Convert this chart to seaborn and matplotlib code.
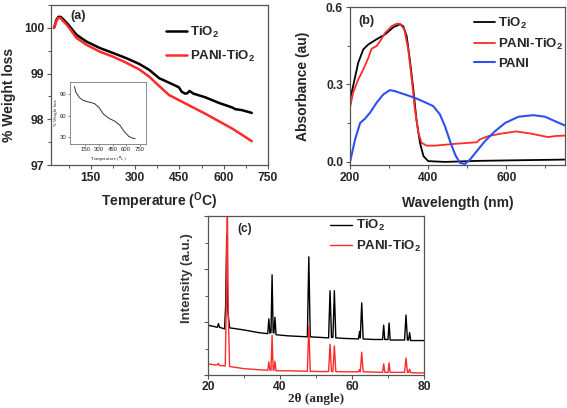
import matplotlib
matplotlib.use('Agg')
import matplotlib.pyplot as plt
import seaborn as sns
import pandas as pd
from matplotlib.ticker import MultipleLocator, NullFormatter

# (a) TGA
tga_temp_tio2 = [25, 28, 33, 40, 48, 56, 68, 80, 101, 135, 180, 225, 269, 314, 348, 381, 415, 448,
                 458, 470, 477, 484, 498, 538, 583, 628, 634, 640, 662, 695]
tga_wt_tio2 = [100.0, 100.05, 100.17, 100.24, 100.24, 100.19, 100.11, 100.02, 99.85, 99.70, 99.56,
               99.45, 99.34, 99.21, 99.08, 98.90, 98.80, 98.70, 98.60, 98.56, 98.57, 98.62, 98.56,
               98.48, 98.36, 98.26, 98.24, 98.22, 98.20, 98.14]
tga_temp_pani = [25, 28, 33, 40, 48, 56, 68, 80, 101, 135, 180, 225, 269, 314, 348, 381, 415, 448,
                 493, 538, 583, 628, 662, 695]
tga_wt_pani = [100.0, 100.05, 100.15, 100.22, 100.21, 100.15, 100.07, 99.97, 99.78, 99.63, 99.48,
               99.37, 99.24, 99.09, 98.93, 98.73, 98.53, 98.42, 98.27, 98.12, 97.96, 97.80, 97.66, 97.52]
inset_temp = [30, 45, 85, 123, 181, 250, 300, 350, 410, 470, 530, 580, 630, 670, 700]
inset_wt = [99.9, 92, 84.6, 81, 78.7, 76.5, 71, 62, 56.2, 52.6, 47, 38, 31.4, 29.2, 28.3]

# (b) UV-vis
uv_wl_tio2 = [200, 208, 221, 234, 247, 268, 290, 311, 328, 336, 345, 353, 362, 370, 379, 388, 400,
              443, 528, 614, 750]
uv_abs_tio2 = [0.242, 0.294, 0.384, 0.436, 0.455, 0.475, 0.494, 0.522, 0.533, 0.526, 0.487, 0.397,
               0.281, 0.164, 0.074, 0.022, 0.003, 0.0, 0.004, 0.006, 0.009]
uv_wl_pani_tio2 = [200, 208, 221, 234, 247, 255, 268, 277, 290, 307, 319, 328, 339, 349, 358, 366,
                   375, 383, 396, 417, 469, 524, 532, 554, 588, 626, 665, 707, 724, 750]
uv_abs_pani_tio2 = [0.21, 0.268, 0.319, 0.358, 0.403, 0.438, 0.449, 0.468, 0.50, 0.526, 0.535, 0.535,
                    0.513, 0.436, 0.319, 0.203, 0.112, 0.074, 0.063, 0.063, 0.07, 0.076, 0.087, 0.10,
                    0.11, 0.118, 0.109, 0.096, 0.10, 0.102]
uv_wl_pani = [200, 213, 226, 238, 251, 268, 285, 302, 315, 341, 366, 392, 413, 430, 443, 456, 469,
              481, 494, 507, 524, 545, 571, 597, 631, 669, 699, 724, 750]
uv_abs_pani = [0.0, 0.087, 0.151, 0.167, 0.19, 0.229, 0.261, 0.278, 0.274, 0.261, 0.248, 0.231,
               0.216, 0.184, 0.138, 0.08, 0.028, -0.004, -0.008, 0.009, 0.041, 0.08, 0.119, 0.151,
               0.175, 0.181, 0.175, 0.158, 0.141]

# (c) XRD
xrd_2theta_tio2 = [20, 22.0, 22.6, 22.9, 23.2, 24.6, 24.9, 25.2, 25.5, 26.0, 30, 34, 36.6, 36.9, 37.2,
                   37.5, 37.8, 38.1, 38.3, 38.6, 38.9, 42, 47.6, 48.0, 48.4, 51, 53.5, 53.9, 54.3,
                   54.7, 55.1, 55.5, 58, 61.8, 62.1, 62.3, 62.7, 63.1, 66, 68.5, 68.8, 69.1, 70.0,
                   70.3, 70.6, 72, 74.6, 75.0, 75.4, 75.7, 76.0, 76.3, 78, 80]
xrd_int_tio2 = [0.94, 0.91, 0.90, 0.97, 0.90, 0.87, 1.3, 2.65, 1.2, 0.89, 0.85, 0.80, 0.78, 1.06, 0.79,
                0.80, 1.89, 0.80, 0.79, 1.09, 0.76, 0.74, 0.72, 2.23, 0.72, 0.71, 0.70, 1.59, 0.71,
                0.71, 1.59, 0.70, 0.69, 0.68, 0.82, 0.70, 1.36, 0.68, 0.67, 0.67, 0.94, 0.67, 0.67,
                0.98, 0.66, 0.66, 0.66, 1.13, 0.66, 0.66, 0.80, 0.65, 0.65, 0.65]
xrd_2theta_pani = [20, 22.0, 22.6, 22.9, 23.2, 24.8, 25.1, 25.35, 25.6, 26.0, 30, 34, 36.6, 36.9, 37.2,
                   37.5, 37.8, 38.1, 38.3, 38.6, 38.9, 42, 47.6, 48.0, 48.4, 51, 53.5, 53.9, 54.3,
                   54.7, 55.1, 55.5, 58, 61.8, 62.1, 62.3, 62.7, 63.1, 66, 68.5, 68.8, 69.1, 70.0,
                   70.3, 70.6, 72, 74.6, 75.0, 75.4, 75.7, 76.0, 76.3, 78, 80]
xrd_int_pani = [0.21, 0.19, 0.19, 0.22, 0.18, 0.17, 1.5, 3.6, 1.2, 0.16, 0.12, 0.10, 0.09, 0.25, 0.09,
                0.09, 0.75, 0.09, 0.09, 0.26, 0.08, 0.08, 0.07, 0.92, 0.07, 0.065, 0.065, 0.58, 0.065,
                0.065, 0.55, 0.065, 0.06, 0.06, 0.10, 0.06, 0.43, 0.06, 0.055, 0.05, 0.21, 0.05, 0.05,
                0.23, 0.05, 0.05, 0.05, 0.32, 0.05, 0.05, 0.11, 0.045, 0.04, 0.04]

sns.set_style('ticks')
plt.rcParams['font.family'] = ['Liberation Sans', 'DejaVu Sans']
plt.rcParams['font.weight'] = 'bold'
plt.rcParams['axes.labelweight'] = 'bold'
plt.rcParams['mathtext.fontset'] = 'custom'
plt.rcParams['mathtext.rm'] = 'Liberation Sans:bold'
plt.rcParams['mathtext.bf'] = 'Liberation Sans:bold'
plt.rcParams['mathtext.it'] = 'Liberation Sans:bold'
plt.rcParams['axes.edgecolor'] = '#555555'
plt.rcParams['axes.linewidth'] = 0.9

BLACK = '#000000'
RED = '#ff2a2a'
BLUE = '#2f4ff0'
TIO2 = r'TiO$_2$'
PANI_TIO2 = r'PANI-TiO$_2$'

fig = plt.figure(figsize=(5.67, 4.08), dpi=100)
W, H = 567, 408


def box(l, t, r, b):
    return [l / W, 1 - b / H, (r - l) / W, (b - t) / H]


def style_ticks(ax, size=8.7):
    ax.tick_params(which='major', direction='out', length=3, width=0.8, color='#555555',
                   labelsize=size, pad=2)
    ax.tick_params(which='minor', direction='out', length=2, width=0.7, color='#555555')
    for s in ax.spines.values():
        s.set_visible(True)
    for lab in ax.get_xticklabels() + ax.get_yticklabels():
        lab.set_fontweight('bold')


# ---- (a)
ax1 = fig.add_axes(box(51, 5, 268, 165))
sns.lineplot(x=tga_temp_tio2, y=tga_wt_tio2, ax=ax1, color=BLACK, lw=1.8, label=TIO2,
             estimator=None, sort=False)
sns.lineplot(x=tga_temp_pani, y=tga_wt_pani, ax=ax1, color=RED, lw=1.8, label=PANI_TIO2,
             estimator=None, sort=False)
ax1.set_xlim(15, 750)
ax1.set_ylim(97, 100.5)
ax1.xaxis.set_major_locator(MultipleLocator(150))
ax1.xaxis.set_minor_locator(MultipleLocator(75))
ax1.yaxis.set_major_locator(MultipleLocator(1))
ax1.yaxis.set_minor_locator(MultipleLocator(0.5))
ax1.set_xticks([150, 300, 450, 600, 750])
style_ticks(ax1)
ax1.set_xlabel(r'Temperature ($^{\mathrm{O}}$C)', fontsize=10, labelpad=5)
ax1.set_ylabel('% Weight loss', fontsize=10)
ax1.yaxis.set_label_coords(-0.16, 0.44)
ax1.text(0.09, 0.93, '(a)', transform=ax1.transAxes, fontsize=9, fontweight='bold', va='center')
ax1.legend(loc='upper left', bbox_to_anchor=(0.53, 0.875), frameon=False, fontsize=9.5,
           handlelength=1.6, handletextpad=0.25, borderpad=0, borderaxespad=0, labelspacing=0.65)

# inset
axi = fig.add_axes(box(70, 82, 146, 144))
sns.lineplot(x=inset_temp, y=inset_wt, ax=axi, color='#333333', lw=0.7, estimator=None, sort=False)
axi.set_xlim(-20, 820)
axi.set_ylim(21, 106)
axi.set_xticks([150, 300, 450, 600, 750])
axi.set_yticks([30, 60, 90])
axi.tick_params(direction='out', length=1.5, width=0.5, labelsize=4.3, pad=1, color='#555555')
for s in axi.spines.values():
    s.set_linewidth(0.6)
    s.set_color('#777777')
for lab in axi.get_xticklabels() + axi.get_yticklabels():
    lab.set_fontweight('normal')
axi.set_xlabel(r'Temperature ($^{\mathrm{o}}$c)', fontsize=3.6, fontweight='normal', labelpad=1.5,
               family=['Liberation Serif'])
axi.set_ylabel('% Weight loss', fontsize=3.3, fontweight='normal', labelpad=1.5,
               family=['Liberation Serif'])

# ---- (b)
ax2 = fig.add_axes(box(350, 7, 565, 165))
sns.lineplot(x=uv_wl_tio2, y=uv_abs_tio2, ax=ax2, color=BLACK, lw=1.3, label=TIO2,
             estimator=None, sort=False)
sns.lineplot(x=uv_wl_pani_tio2, y=uv_abs_pani_tio2, ax=ax2, color=RED, lw=1.3, label=PANI_TIO2,
             estimator=None, sort=False)
sns.lineplot(x=uv_wl_pani, y=uv_abs_pani, ax=ax2, color=BLUE, lw=1.5, label='PANI',
             estimator=None, sort=False)
ax2.set_xlim(200, 750)
ax2.set_ylim(-0.012, 0.6)
ax2.set_xticks([200, 400, 600])
ax2.xaxis.set_minor_locator(MultipleLocator(100))
ax2.set_yticks([0.0, 0.3, 0.6])
ax2.yaxis.set_minor_locator(MultipleLocator(0.15))
ax2.set_yticklabels(['0.0', '0.3', '0.6'])
style_ticks(ax2)
ax2.set_xlabel('Wavelength (nm)', fontsize=10, labelpad=9)
ax2.set_ylabel('Absorbance (au)', fontsize=10)
ax2.yaxis.set_label_coords(-0.185, 0.5)
ax2.text(0.037, 0.91, '(b)', transform=ax2.transAxes, fontsize=9, fontweight='bold', va='center')
ax2.legend(loc='upper left', bbox_to_anchor=(0.575, 0.945), frameon=False, fontsize=9.5,
           handlelength=1.6, handletextpad=0.25, borderpad=0, borderaxespad=0, labelspacing=0.45)

# ---- (c)
ax3 = fig.add_axes(box(208, 216, 424, 375))
sns.lineplot(x=xrd_2theta_tio2, y=xrd_int_tio2, ax=ax3, color=BLACK, lw=1.0, label=TIO2,
             estimator=None, sort=False)
sns.lineplot(x=xrd_2theta_pani, y=xrd_int_pani, ax=ax3, color=RED, lw=1.0, label=PANI_TIO2,
             estimator=None, sort=False)
ax3.set_xlim(20, 80)
ax3.set_ylim(0, 3)
ax3.set_xticks([20, 40, 60, 80])
ax3.xaxis.set_minor_locator(MultipleLocator(10))
ax3.yaxis.set_major_locator(MultipleLocator(1))
ax3.yaxis.set_minor_locator(MultipleLocator(0.5))
ax3.yaxis.set_major_formatter(NullFormatter())
style_ticks(ax3)
ax3.tick_params(axis='x', which='major', pad=1)
ax3.set_xlabel('2θ (angle)', fontsize=9.5, labelpad=0, family=['Liberation Serif'], fontweight='bold')
ax3.set_ylabel('Intensity (a.u.)', fontsize=9.5, color='#333333')
ax3.yaxis.set_label_coords(-0.07, 0.61)
ax3.text(0.135, 0.9, '(c)', transform=ax3.transAxes, fontsize=8.5, fontweight='bold')
ax3.legend(loc='upper left', bbox_to_anchor=(0.565, 0.985), frameon=False, fontsize=9.5,
           handlelength=1.7, handletextpad=0.25, borderpad=0, borderaxespad=0, labelspacing=0.4)

fig.savefig('out.png', dpi=100)
